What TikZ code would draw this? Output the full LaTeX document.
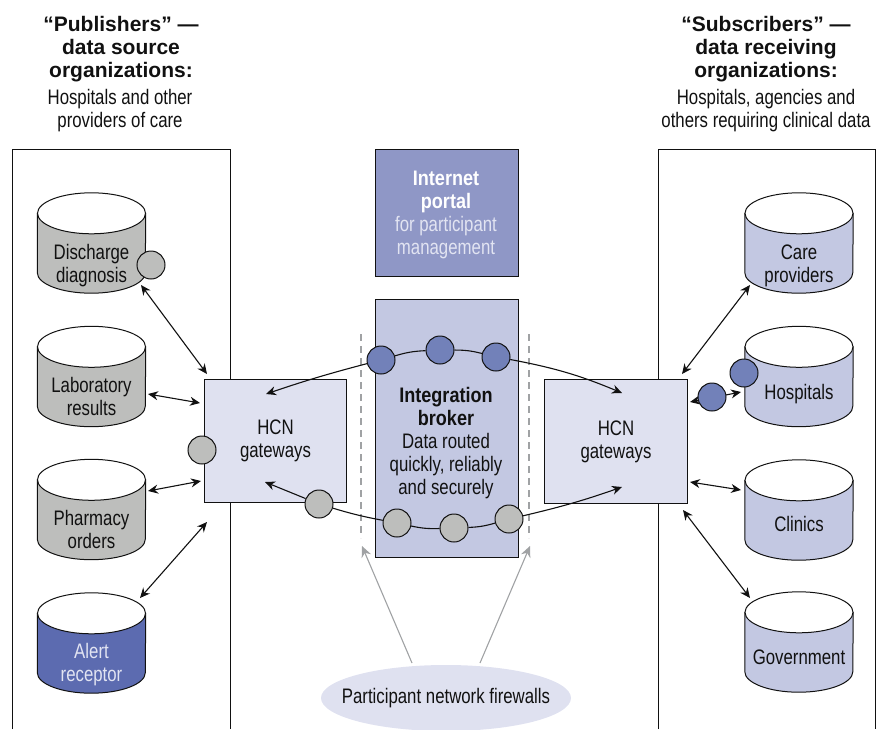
\documentclass[tikz,border=0pt]{standalone}
\usepackage{fontspec}
\setmainfont{Liberation Sans}
\newfontfamily\cond[FakeStretch=0.8]{Liberation Sans}
\newfontfamily\condb[FakeStretch=0.86]{Liberation Sans Bold}
\usetikzlibrary{shapes.geometric,arrows.meta,calc}
\definecolor{portalc}{HTML}{8F97C6}
\definecolor{brokerc}{HTML}{C3C8E2}
\definecolor{gatec}{HTML}{DFE1F0}
\definecolor{bluec}{HTML}{7281B9}
\definecolor{grayc}{HTML}{BDBEBC}
\definecolor{alertc}{HTML}{5C6BB0}
\definecolor{linec}{HTML}{111111}
\definecolor{dashc}{HTML}{A0A2A4}
\definecolor{portaltxt}{HTML}{E2E4F2}
\tikzset{
  x=1pt,y=-1pt,
  txt/.style={font=\cond\fontsize{21}{23}\selectfont,align=center,text=linec},
  dbbox/.style={rectangle,minimum width=108pt,minimum height=100pt,inner sep=0pt},
  dbline/.style={draw=linec,line width=1pt},
  rectbox/.style={draw=linec,line width=1pt,fill=#1,anchor=north west,inner sep=0pt,align=center},
  disc/.style={circle,draw=linec,line width=1pt,fill=#1,minimum size=28pt,inner sep=0pt},
  conn/.style={linec,line width=1.1pt,{Stealth[length=10pt,width=9pt]}-{Stealth[length=10pt,width=9pt]}},
  oneway/.style={linec,line width=1.1pt,-{Stealth[length=10pt,width=9pt]}},
  link/.style={linec,line width=1.1pt},
  dashline/.style={dashc,line width=1.2pt,dash pattern=on 7pt off 5pt},
  fw/.style={dashc,line width=1.1pt,-{Stealth[length=11pt,width=10pt]}},
  head/.style={font=\fontsize{21}{23}\selectfont\bfseries,align=center,text=linec},
  sub/.style={txt},
}
% name, x, y, fill, text dy, text style, text
\newcommand{\dbnode}[7]{%
  \node[dbbox] (#1) at (#2,#3) {};
  \draw[dbline,fill=#4] ([yshift=-20.5pt]#1.north west) -- ([yshift=20.5pt]#1.south west)
    arc[start angle=180,end angle=360,x radius=54pt,y radius=20.5pt]
    -- ([yshift=-20.5pt]#1.north east) -- cycle;
  \draw[dbline,fill=white] ([yshift=-20.5pt]#1.north) ellipse [x radius=54pt,y radius=20.5pt];
  \node[txt,#6] (#1t) at ([yshift=-#5pt]#1.center) {#7};
}
\begin{document}
\begin{tikzpicture}
\useasboundingbox (0,0) rectangle (881,729);
% organisation frames (open at the bottom)
\draw[linec,line width=1pt] (12,729) -- (12,149) -- (230,149) -- (230,729);
\draw[linec,line width=1pt] (658,729) -- (658,149) -- (875,149) -- (875,729);
% headers
\node[head] (pubh) at (121,49) {“Publishers” —\\data source\\organizations:};
\node[sub] (pubs) at (120,111) {Hospitals and other\\providers of care};
\node[head] (subh) at (766,49) {“Subscribers” —\\data receiving\\organizations:};
\node[sub] (subs) at (766,111) {Hospitals, agencies and\\others requiring clinical data};
% central boxes
\node[rectbox=portalc,minimum width=143pt,minimum height=127pt] (portal) at (375,149) {};
\node[txt,text=portaltxt] (portalt) at (446,215) {{\condb\fontsize{21}{23}\selectfont\textcolor{white}{Internet}}\\{\condb\fontsize{21}{23}\selectfont\textcolor{white}{portal}}\\for participant\\management};
\node[rectbox=brokerc,minimum width=143pt,minimum height=258pt] (broker) at (375,299) {};
\node[txt] (brokert) at (446,443) {{\condb\fontsize{21}{23}\selectfont Integration}\\{\condb\fontsize{21}{23}\selectfont broker}\\Data routed\\quickly, reliably\\and securely};
\node[rectbox=gatec,minimum width=142pt,minimum height=123pt,font=\cond\fontsize{21}{23}\selectfont,text=linec] (gwl) at (204,379) {HCN\\gateways};
\node[rectbox=gatec,minimum width=143pt,minimum height=124pt,font=\cond\fontsize{21}{23}\selectfont,text=linec] (gwr) at (544,379) {HCN\\gateways};
% firewall dashes
\coordinate (dl1) at (361,334);
\coordinate (dl2) at (361,538);
\coordinate (dr1) at (529,334);
\coordinate (dr2) at (529,538);
\coordinate (tl) at (362,546);
\coordinate (tr) at (530,546);
\draw[dashline] (dl1) -- (dl2);
\draw[dashline] (dr1) -- (dr2);
% databases
\dbnode{dis}{91.5}{243}{grayc}{22.5}{}{Discharge\\diagnosis}
\dbnode{lab}{91.5}{376.5}{grayc}{20}{}{Laboratory\\results}
\dbnode{pha}{91.5}{509.5}{grayc}{20}{}{Pharmacy\\orders}
\dbnode{ale}{91.5}{643}{alertc}{22}{text=portaltxt}{Alert\\receptor}
\dbnode{car}{799}{243}{brokerc}{22.5}{}{Care\\providers}
\dbnode{hos}{799}{376.5}{brokerc}{18}{}{Hospitals}
\dbnode{cli}{799}{510}{brokerc}{14}{}{Clinics}
\dbnode{gov}{799}{642}{brokerc}{15}{}{Government}
% firewalls
\node[ellipse,fill=gatec,minimum width=250pt,minimum height=66pt,inner sep=0pt,label={[txt]center:Participant network firewalls}] (fwn) at (446,698) {};
\draw[fw] ([shift={(-34,-35)}]fwn.center) -- (tl);
\draw[fw] ([shift={(34,-35)}]fwn.center) -- (tr);
% message discs
\node[disc=bluec] (b1) at (381,360) {};
\node[disc=bluec] (b2) at (440,350) {};
\node[disc=bluec] (b3) at (496,357) {};
\node[disc=grayc] (g1) at (397,523) {};
\node[disc=grayc] (g2) at (454,528) {};
\node[disc=grayc] (g3) at (509,519) {};
\node[disc=grayc] (g4) at (319,504) {};
\node[disc=grayc] (g5) at (202,450) {};
\node[disc=grayc] (g6) at (151,265) {};
\draw[link] (b1) to[bend left=7] (b2);
\draw[link] (b2) to[bend left=7] (b3);
\draw[link] (g1) to[bend right=7] (g2);
\draw[link] (g2) to[bend right=7] (g3);
\draw[link] (g1) to[bend left=3] (g4);
\draw[oneway] (b1) to[bend right=2] ([shift={(62,15)}]gwl.north west);
\draw[oneway] (b3) to[bend left=6] ([shift={(-66,14)}]gwr.north east);
\draw[oneway] (g3) to[bend right=3] ([shift={(-66,-17)}]gwr.south east);
\draw[oneway] (g4) to ([shift={(61,-21)}]gwl.south west);
% double arrows
\draw[conn] ([shift={(49.5,42)}]dis.center) -- ([shift={(3,-5)}]gwl.north west);
\draw[conn] ([shift={(56.5,17.5)}]lab.center) -- ([shift={(-4,24)}]gwl.north west);
\draw[conn] ([shift={(56.5,-18.5)}]pha.center) -- ([shift={(-3,-22)}]gwl.south west);
\draw[conn] ([shift={(48.5,-45)}]ale.center) -- ([shift={(3,19)}]gwl.south west);
\draw[conn] ([shift={(-49,42)}]car.center) -- ([shift={(-6,-5)}]gwr.north east);
\draw[conn] ([shift={(2,23)}]gwr.north east) -- ([shift={(-58,15.5)}]hos.center);
\draw[conn] ([shift={(2,-22)}]gwr.south east) -- ([shift={(-58,-20)}]cli.center);
\draw[conn] ([shift={(-5,6)}]gwr.south east) -- ([shift={(-49,-44)}]gov.center);
% discs on the hospital link
\node[disc=bluec] (h1) at (744,373) {};
\node[disc=bluec] (h2) at (712,397) {};
\end{tikzpicture}
\end{document}
